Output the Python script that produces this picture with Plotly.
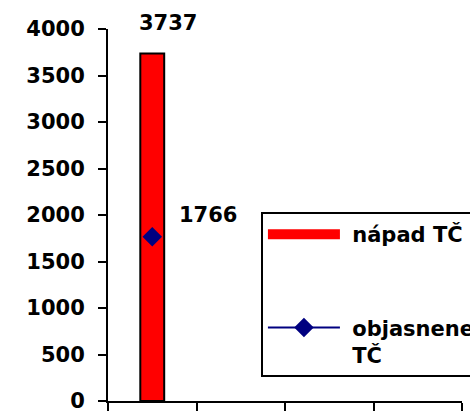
import plotly.graph_objects as go

categories = [0]
napad = [3737]
objasnene = [1766]
series_names = ["\u00a0nápad TČ", "\u00a0objasnene<br>\u00a0TČ"]
y_ticks = [0, 500, 1000, 1500, 2000, 2500, 3000, 3500, 4000]
x_bounds = [-0.5, 0.5, 1.5, 2.5, 3.5]

FONT = "DejaVu Sans"
BOLD = dict(family=FONT, size=21, color="black", weight="bold")
fig = go.Figure()
fig.add_trace(go.Bar(
    x=categories, y=napad, name=series_names[0], width=0.27,
    marker=dict(color="#FF0000", line=dict(color="black", width=2)),
    showlegend=False,
))
# legend entry for the bar series (wide red rectangle like the original)
fig.add_trace(go.Scatter(
    x=[None], y=[None], name=series_names[0], mode="lines",
    line=dict(color="#FF0000", width=16), legendgroup="a",
))
fig.add_trace(go.Scatter(
    x=categories, y=objasnene, name=series_names[1], mode="lines+markers",
    line=dict(color="#000080", width=2),
    marker=dict(symbol="diamond", size=15, color="#000080"),
    legendgroup="b",
))
fig.add_annotation(x=categories[0], y=napad[0], text=str(napad[0]), showarrow=False,
                   xshift=16, yshift=30, font=BOLD)
fig.add_annotation(x=categories[0], y=objasnene[0], text=str(objasnene[0]), showarrow=False,
                   xshift=56, yshift=22, font=BOLD)

axis_common = dict(showgrid=False, zeroline=False)
fig.update_layout(
    width=470, height=415,
    margin=dict(l=108, r=8, t=29, b=14, autoexpand=False),
    plot_bgcolor="white", paper_bgcolor="white",
    showlegend=True,
    font=BOLD,
    xaxis=dict(range=[-0.5, 3.5], tickvals=x_bounds, showticklabels=False,
               showline=True, linecolor="black", linewidth=2,
               ticks="outside", ticklen=8, tickwidth=2, tickcolor="black", **axis_common),
    xaxis2=dict(range=[-0.5, 3.5], tickvals=x_bounds, showticklabels=False,
                overlaying="x", anchor="y", showline=False,
                ticks="inside", ticklen=8, tickwidth=2, tickcolor="black", **axis_common),
    yaxis=dict(range=[0, 4000], tickvals=y_ticks, showline=True, linecolor="black", linewidth=2,
               ticks="outside", ticklen=8, tickwidth=2, tickcolor="black",
               ticklabelstandoff=9, tickfont=BOLD, **axis_common),
    yaxis2=dict(range=[0, 4000], tickvals=y_ticks, showticklabels=False,
                overlaying="y", anchor="x", side="left", showline=False,
                ticks="inside", ticklen=9, tickwidth=2, tickcolor="black", **axis_common),
    legend=dict(x=0.432, y=0.508, xanchor="left", yanchor="top",
                bgcolor="white", bordercolor="black", borderwidth=2,
                traceorder="grouped", tracegroupgap=63, itemwidth=72, valign="top",
                font=BOLD),
)
fig.write_html("out.html", config={"displayModeBar": False},
               post_script="document.body.style.margin='0';document.body.style.overflow='hidden';")
